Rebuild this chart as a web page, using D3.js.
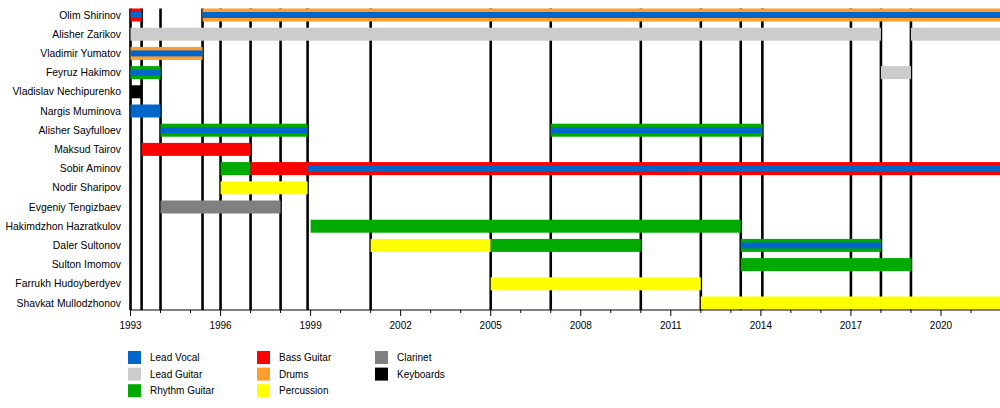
<!DOCTYPE html>
<html>
<head>
<meta charset="utf-8">
<script src="https://cdnjs.cloudflare.com/ajax/libs/d3/7.8.5/d3.min.js"></script>
<style>
  body { margin: 0; background: #fff; }
  text { font-family: "Liberation Sans", Arial, sans-serif; fill: #000; }
</style>
</head>
<body>
<div id="chart"></div>
<script>
// Miembros (de arriba a abajo)
const members = [
    "Olim Shirinov", "Alisher Zarikov", "Vladimir Yumatov", "Feyruz Hakimov",
    "Vladislav Nechipurenko", "Nargis Muminova", "Alisher Sayfulloev", "Maksud Tairov",
    "Sobir Aminov", "Nodir Sharipov", "Evgeniy Tengizbaev", "Hakimdzhon Hazratkulov",
    "Daler Sultonov", "Sulton Imomov", "Farrukh Hudoyberdyev", "Shavkat Mullodzhonov"
];

// Roles y colores
const roles = ["Lead Vocal", "Lead Guitar", "Rhythm Guitar", "Bass Guitar", "Drums", "Percussion", "Clarinet", "Keyboards"];
const roleColors = ["#0066cc", "#cccccc", "#00aa00", "#ff0000", "#ff9e2c", "#ffff00", "#808080", "#000000"];

// Periodos: [miembro, rol, desde, hasta]  (barra completa)
const periods = [
    ["Olim Shirinov", "Bass Guitar", 1993, 1993.37],
    ["Olim Shirinov", "Drums", 1995.4, 2022],
    ["Alisher Zarikov", "Lead Guitar", 1993, 2018],
    ["Alisher Zarikov", "Lead Guitar", 2019, 2022],
    ["Vladimir Yumatov", "Drums", 1993, 1995.4],
    ["Feyruz Hakimov", "Rhythm Guitar", 1993, 1994],
    ["Feyruz Hakimov", "Lead Guitar", 2018, 2019],
    ["Vladislav Nechipurenko", "Keyboards", 1993, 1993.37],
    ["Nargis Muminova", "Lead Vocal", 1993, 1994],
    ["Alisher Sayfulloev", "Rhythm Guitar", 1994, 1998.9],
    ["Alisher Sayfulloev", "Rhythm Guitar", 2007, 2014.05],
    ["Maksud Tairov", "Bass Guitar", 1993.37, 1997],
    ["Sobir Aminov", "Rhythm Guitar", 1996, 1997],
    ["Sobir Aminov", "Bass Guitar", 1997, 2022],
    ["Nodir Sharipov", "Percussion", 1996, 1998.9],
    ["Evgeniy Tengizbaev", "Clarinet", 1994, 1998],
    ["Hakimdzhon Hazratkulov", "Rhythm Guitar", 1999, 2013.33],
    ["Daler Sultonov", "Percussion", 2001, 2005],
    ["Daler Sultonov", "Rhythm Guitar", 2005, 2010],
    ["Daler Sultonov", "Rhythm Guitar", 2013.33, 2018],
    ["Sulton Imomov", "Rhythm Guitar", 2013.33, 2019],
    ["Farrukh Hudoyberdyev", "Percussion", 2005, 2012],
    ["Shavkat Mullodzhonov", "Percussion", 2012, 2022]
];

// Segundo rol (barra fina encima)
const secondRoles = [
    ["Olim Shirinov", "Lead Vocal", 1993, 1993.37],
    ["Olim Shirinov", "Lead Vocal", 1995.4, 2022],
    ["Vladimir Yumatov", "Lead Vocal", 1993, 1995.4],
    ["Feyruz Hakimov", "Lead Vocal", 1993, 1994],
    ["Alisher Sayfulloev", "Lead Vocal", 1994, 1998.9],
    ["Alisher Sayfulloev", "Lead Vocal", 2007, 2014.05],
    ["Sobir Aminov", "Lead Vocal", 1998.9, 2022],
    ["Daler Sultonov", "Lead Vocal", 2013.33, 2018]
];

// Lanzamientos (lineas verticales)
const releases = [1993, 1993.37, 1994, 1995.4, 1996, 1997, 1998, 1998.9, 2001,
                  2005, 2007, 2010, 2012, 2013.33, 2014.05, 2017, 2018, 2019];

const tickYears = d3.range(1993, 2022);
const labelYears = d3.range(1993, 2022, 3);

const width = 1000, height = 408;
const svg = d3.select("#chart").append("svg")
    .attr("width", width)
    .attr("height", height);

const x = d3.scaleLinear().domain([1993, 2022]).range([130.5, 1001]);
const y = d3.scalePoint().domain(members).range([15, 303]);
const color = d3.scaleOrdinal().domain(roles).range(roleColors);

const plotTop = 8.5, axisY = 310;

// Lineas verticales
svg.append("g").selectAll("line")
    .data(releases)
    .enter().append("line")
    .attr("x1", d => x(d)).attr("x2", d => x(d))
    .attr("y1", plotTop).attr("y2", axisY)
    .attr("stroke", "#000")
    .attr("stroke-width", 2.6);

// Barras
const barH = 13, thinH = 6;
svg.append("g").selectAll("rect")
    .data(periods)
    .enter().append("rect")
    .attr("x", d => x(d[2]))
    .attr("width", d => x(d[3]) - x(d[2]))
    .attr("y", d => y(d[0]) - barH / 2)
    .attr("height", barH)
    .attr("fill", d => color(d[1]));

svg.append("g").selectAll("rect")
    .data(secondRoles)
    .enter().append("rect")
    .attr("x", d => x(d[2]))
    .attr("width", d => x(d[3]) - x(d[2]))
    .attr("y", d => y(d[0]) - thinH / 2)
    .attr("height", thinH)
    .attr("fill", d => color(d[1]));

// Nombres
svg.append("g").selectAll("text")
    .data(members)
    .enter().append("text")
    .attr("x", 121)
    .attr("y", d => y(d) + 3.6)
    .attr("text-anchor", "end")
    .attr("font-size", 10.4)
    .text(d => d);

// Eje
const axis = svg.append("g").attr("transform", `translate(0,${axisY})`);
axis.append("line")
    .attr("x1", x(1993)).attr("x2", width)
    .attr("stroke", "#000").attr("stroke-width", 1);
axis.selectAll(".tick")
    .data(tickYears)
    .enter().append("line")
    .attr("x1", d => x(d)).attr("x2", d => x(d))
    .attr("y1", 0)
    .attr("y2", d => labelYears.includes(d) ? 6 : 3)
    .attr("stroke", "#000").attr("stroke-width", 1);
axis.selectAll("text")
    .data(labelYears)
    .enter().append("text")
    .attr("x", d => x(d))
    .attr("y", 18.5)
    .attr("text-anchor", "middle")
    .attr("font-size", 10)
    .text(d => d);

// Leyenda (columnas de 3)
const legend = svg.append("g").selectAll("g")
    .data(roles)
    .enter().append("g")
    .attr("transform", (d, i) => {
        const col = Math.floor(i / 3), row = i % 3;
        return `translate(${[128, 257, 375][col]},${351 + row * 16.6})`;
    });
legend.append("rect")
    .attr("width", 13).attr("height", 13)
    .attr("fill", d => color(d));
legend.append("text")
    .attr("x", 22)
    .attr("y", 10.3)
    .attr("font-size", 10)
    .text(d => d);
</script>
</body>
</html>
